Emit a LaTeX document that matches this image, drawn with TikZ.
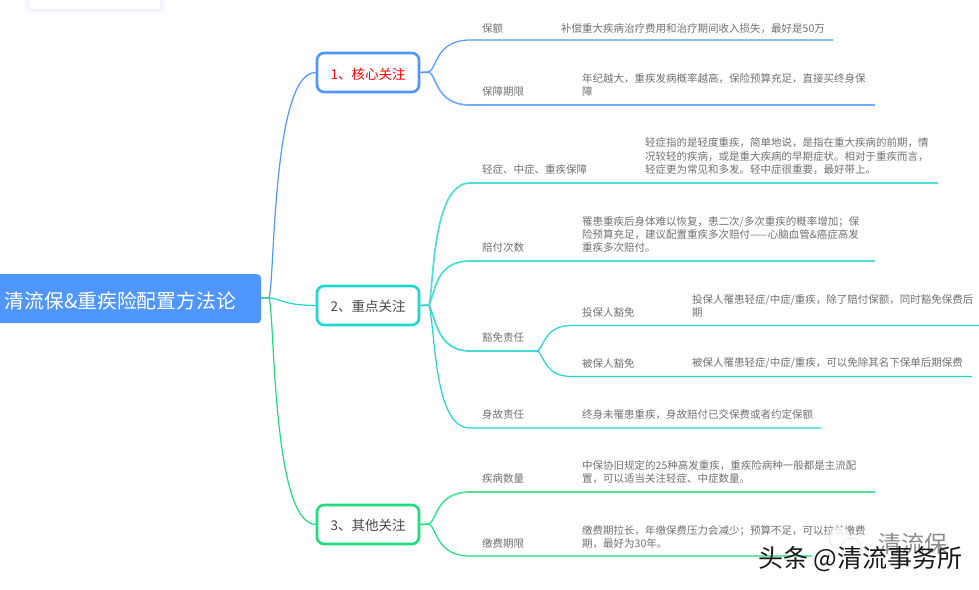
\documentclass[tikz,border=0pt]{standalone}
\usepackage{fontspec}
\setmainfont{Noto Sans CJK SC}
\definecolor{cblue}{HTML}{5096FF}
\definecolor{cteal}{HTML}{1FD6D0}
\definecolor{cgreen}{HTML}{1FDC7E}
\definecolor{ctxt}{HTML}{707070}
\tikzset{
  rootbox/.style={fill=cblue,rounded corners=4pt,inner sep=0pt},
  topicbox/.style={draw,line width=2.6pt,fill=white,rounded corners=7pt,minimum width=102pt,minimum height=39pt,inner sep=0pt},
  topictext/.style={inner sep=0pt,text=black!72,font=\fontsize{13.5}{16}\selectfont},
  leaf/.style={anchor=south west,inner sep=0pt,text=ctxt,align=left,font=\fontsize{10.5}{13.4}\selectfont},
  conn/.style={line width=1.2pt},
  connb/.style={line width=1.7pt},
  bubble/.style={draw=black!30,fill=white,fill opacity=.8,line width=.5pt,densely dotted},
}
\begin{document}
\begin{tikzpicture}[x=1pt,y=-1pt]
\useasboundingbox (0,0) rectangle (979,589);
% card at top-left
\foreach \k/\o in {6/.012,4.5/.015,3/.02,1.5/.025}
  \fill[blue!50!gray,opacity=\o,rounded corners=3pt] (29-\k,-8) rectangle (160+\k,9+\k);
\fill[white] (29,-8) rectangle (160,9);
% root
\node[rootbox,anchor=north west,minimum width=266pt,minimum height=49pt] (root) at (-5,274) {};
\node[anchor=west,inner sep=0pt,text=white,font=\fontsize{19.8}{24}\selectfont] (roott) at (4.5,301) {清流保\&重疾险配置方法论};
% junctions and ends
\coordinate (rj) at (269,298);
\coordinate (rs) at (261,298);
\node[topicbox,draw=cblue] (t1) at (368,72.5) {};
\node[topicbox,draw=cteal] (t2) at (368,305.5) {};
\node[topicbox,draw=cgreen] (t3) at (368,524.5) {};
\node[topictext,text=red] (t1t) at (368,74) {1、核心关注};
\node[topictext] (t2t) at (368,306.5) {2、重点关注};
\node[topictext] (t3t) at (368,525.5) {3、其他关注};
\coordinate (j1) at (429,72);
\coordinate (j2) at (429,305);
\coordinate (j3) at (429,524);
\coordinate (a1) at (470,40);  \coordinate (a2) at (833,40);
\coordinate (b1) at (470,105); \coordinate (b2) at (875,105);
\coordinate (c1) at (470,183); \coordinate (c2) at (938,183);
\coordinate (d1) at (470,261); \coordinate (d2) at (875,261);
\coordinate (e1) at (470,351); \coordinate (e2) at (538,351);
\coordinate (f1) at (572,325.5); \coordinate (f2) at (979,325.5);
\coordinate (g1) at (572,376.5); \coordinate (g2) at (972,376.5);
\coordinate (h1) at (470,428); \coordinate (h2) at (821,428);
\coordinate (i1) at (470,492); \coordinate (i2) at (875,492);
\coordinate (k1) at (470,556); \coordinate (k2) at (875,556);
% root connectors
\draw[conn,cblue] (rs) -- (rj) .. controls (275,280) and (272,72) .. (t1.west);
\draw[conn,cgreen] (rs) -- (rj) .. controls (275,316) and (272,524) .. (t3.west);
\draw[conn,cteal] (rj) .. controls (281,298) and (280,305) .. (t2.west);
% topic 1
\draw[connb,cblue] (t1.east) -- (j1);
\draw[conn,cblue] (j1) .. controls (437,68) and (436,40) .. (a1) -- (a2);
\draw[connb,cblue!80!white] (j1) .. controls (437,76) and (436,105) .. (b1) -- (b2);
% topic 2
\draw[connb,cteal] (t2.east) -- (j2);
\draw[connb,cteal!80!white] (j2) .. controls (434,285) and (432,183) .. (c1) -- (c2);
\draw[connb,cteal!80!white] (j2) .. controls (436,290) and (436,261) .. (d1) -- (d2);
\draw[connb,cteal!85!white] (j2) .. controls (436,320) and (438,351) .. (e1) -- (e2);
\draw[conn,cteal] (j2) .. controls (436,335) and (434,428) .. (h1) -- (h2);
\draw[conn,cteal] (e2) .. controls (545,343) and (546,325.5) .. (f1) -- (f2);
\draw[conn,cteal] (e2) .. controls (545,359) and (546,376.5) .. (g1) -- (g2);
% topic 3
\draw[connb,cgreen] (t3.east) -- (j3);
\draw[connb,cgreen!80!white] (j3) .. controls (437,520) and (436,492) .. (i1) -- (i2);
\draw[conn,cgreen] (j3) .. controls (437,528) and (436,556) .. (k1) -- (k2);
% labels
\node[leaf] (la) at (482,33.5) {保额};
\node[leaf] (lb) at (482,97) {保障期限};
\node[leaf] (lc) at (482,175) {轻症、中症、重疾保障};
\node[leaf] (ld) at (482,253) {赔付次数};
\node[leaf] (le) at (482,343) {豁免责任};
\node[leaf] (lf) at (582,318) {投保人豁免};
\node[leaf] (lg) at (582,369) {被保人豁免};
\node[leaf] (lh) at (482,420) {身故责任};
\node[leaf] (li) at (482,484) {疾病数量};
\node[leaf] (lk) at (482,549) {缴费期限};
% details
\node[leaf] (da) at (561,33.5) {补偿重大疾病治疗费用和治疗期间收入损失，最好是50万};
\node[leaf] (db) at (582,97) {年纪越大，重疾发病概率越高，保险预算充足，直接买终身保\\障};
\node[leaf] (dc) at (645,175) {轻症指的是轻度重疾，简单地说，是指在重大疾病的前期，情\\况较轻的疾病，或是重大疾病的早期症状。相对于重疾而言，\\轻症更为常见和多发。轻中症很重要，最好带上。};
\node[leaf] (dd) at (582,253) {罹患重疾后身体难以恢复，患二次/多次重疾的概率增加；保\\险预算充足，建议配置重疾多次赔付——心脑血管\&癌症高发\\重疾多次赔付。};
\node[leaf] (df) at (692,318) {投保人罹患轻症/中症/重疾，除了赔付保额，同时豁免保费后\\期};
\node[leaf] (dg) at (692,369) {被保人罹患轻症/中症/重疾，可以免除其名下保单后期保费};
\node[leaf] (dh) at (582,420) {终身未罹患重疾，身故赔付已交保费或者约定保额};
\node[leaf] (di) at (582,484) {中保协旧规定的25种高发重疾，重疾险病种一般都是主流配\\置，可以适当关注轻症、中症数量。};
\node[leaf] (dk) at (582,549) {缴费期拉长，年缴保费压力会减少；预算不足，可以拉长缴费\\期，最好为30年。};
% watermark
\fill[white,opacity=.9] (812,537) rectangle (979,575);
\draw[bubble] (840,538) circle (11);
\draw[bubble] (851,548) circle (10);
\node[anchor=west,inner sep=0pt,text=black!45,font=\fontsize{23}{25}\selectfont] (w1) at (878,544) {清流保};
\node[anchor=west,inner sep=0pt,text=black!90,font=\fontsize{25}{28}\selectfont] (w2) at (758,559) {头条 @清流事务所};
\end{tikzpicture}
\end{document}
